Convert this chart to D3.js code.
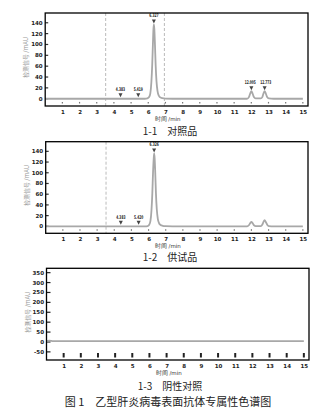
<!DOCTYPE html>
<html><head><meta charset="utf-8">
<script src="https://cdn.jsdelivr.net/npm/d3@7"></script>
<style>body{margin:0;background:#fff}svg{display:block}</style>
</head><body>
<svg id="c" width="333" height="411"></svg>
<script>
// ---- data ----
const xTicks = [1,2,3,4,5,6,7,8,9,10,11,12,13,14,15];
const yTicks12 = [0,20,40,60,80,100,120,140];
const yTicks3 = [-50,0,50,100,150,200,250,300,350];

const times1 = [0,3.5,5.8,5.95,6.05,6.12,6.18,6.23,6.27,6.30,6.327,6.355,6.39,6.43,6.48,6.54,6.61,6.70,6.82,7.0,7.4,11.75,11.86,11.94,12.005,12.07,12.15,12.25,12.55,12.64,12.71,12.773,12.84,12.92,13.02,13.3,15];
const signal1 = [0,0,0,0.6,3,10,30,62,100,127,137,128,100,62,32,14,6,2.5,1,0.3,0,0,3,10,14,10,3,0.5,0.5,3,10,14,10,3,0.5,0,0];
const peakT1 = [4.383,5.419,6.327,12.005,12.773];
const peakV1 = [1,1,137,14,14];
const peakL1 = ["4.383","5.419","6.327","12.005","12.773"];
const dashT1 = [3.52,6.94];

const times2 = [0,3.5,5.8,5.95,6.04,6.11,6.17,6.22,6.26,6.30,6.326,6.355,6.39,6.43,6.48,6.54,6.61,6.70,6.82,7.0,7.4,11.75,11.85,11.93,12.0,12.07,12.15,12.25,12.55,12.63,12.70,12.77,12.84,12.92,13.02,13.3,15];
const signal2 = [0,0,0,0.6,3,10,30,62,100,126,136,127,100,62,32,14,6,2.5,1,0.3,0,0,2,6,8.5,6,2,0.5,0.5,3,8,11.5,8,3,0.5,0,0];
const peakT2 = [4.383,5.420,6.326];
const peakV2 = [1,1,136];
const peakL2 = ["4.383","5.420","6.326"];
const dashT2 = [3.52];

const times3 = [0,0.15,0.4,15];
const signal3 = [4,7,4,4];

const captions = ["1-1\u3000对照品","1-2\u3000供试品","1-3\u3000阴性对照"];
const figTitle = "图 1\u3000乙型肝炎病毒表面抗体专属性色谱图";
const yTitle = "检测信号 /mAU";
const xTitle = "时间 /min";

// ---- drawing ----
const svg = d3.select("#c");
const panels = [
  {l:45.2,r:308,t:13,b:106,yd:[-13.4,158],yt:yTicks12,times:times1,sig:signal1,pt:peakT1,pv:peakV1,pl:peakL1,dash:dashT1,cap:captions[0],capY:135,tickCol:"#777",tickW:1.2,tickLen:1.6,yTickCol:"#333",yTickLen:3},
  {l:45.7,r:308,t:141.7,b:233.3,yd:[-13,158],yt:yTicks12,times:times2,sig:signal2,pt:peakT2,pv:peakV2,pl:peakL2,dash:dashT2,cap:captions[1],capY:261,tickCol:"#777",tickW:1.2,tickLen:1.6,yTickCol:"#333",yTickLen:3},
  {l:46.5,r:309,t:268.3,b:360,yd:[-91,372],yt:yTicks3,times:times3,sig:signal3,pt:[],pv:[],pl:[],dash:[],cap:captions[2],capY:390,tickCol:"#222",tickW:2,tickLen:4.5,yTickCol:"#222",yTickLen:4}
];

panels.forEach(p=>{
  const x = d3.scaleLinear().domain([0,15.3]).range([p.l,p.r]);
  const y = d3.scaleLinear().domain(p.yd).range([p.b,p.t]);
  const g = svg.append("g");

  // dashed lines
  g.selectAll(".dash").data(p.dash).join("line")
    .attr("x1",d=>x(d)).attr("x2",d=>x(d)).attr("y1",p.t).attr("y2",p.b)
    .attr("stroke","#aaa").attr("stroke-width",0.8).attr("stroke-dasharray","3,2");

  // x ticks (inward)
  g.selectAll(".xt").data(xTicks).join("line")
    .attr("x1",d=>x(d)).attr("x2",d=>x(d)).attr("y1",p.b-2.5).attr("y2",p.b-2.5-p.tickLen)
    .attr("stroke",p.tickCol).attr("stroke-width",p.tickW);
  g.selectAll(".xl").data(xTicks).join("text")
    .attr("x",d=>x(d)+0.5).attr("y",p.b+7.5).attr("text-anchor","middle")
    .attr("font-size",5.5).attr("font-family","DejaVu Sans").attr("font-weight","bold").attr("fill","#222")
    .text(d=>d);
  g.append("text").attr("x",(p.l+p.r)/2 - 9).attr("y",p.b+15).attr("text-anchor","middle")
    .attr("font-size",5.5).attr("font-family","DejaVu Sans").attr("fill","#333").text(xTitle);

  // y ticks
  g.selectAll(".yt").data(p.yt).join("line")
    .attr("x1",p.l).attr("x2",p.l+p.yTickLen).attr("y1",d=>y(d)).attr("y2",d=>y(d))
    .attr("stroke",p.yTickCol).attr("stroke-width",1.2);
  g.selectAll(".yl").data(p.yt).join("text")
    .attr("x",p.l-2.5).attr("y",d=>y(d)+2).attr("text-anchor","end")
    .attr("font-size",5.5).attr("font-family","DejaVu Sans").attr("font-weight","bold").attr("fill","#222")
    .text(d=>d);
  const yMid = (y(p.yd[0])+y(p.yd[1]))/2 - 2;
  g.append("text").attr("transform",`translate(${p.l-17},${yMid}) rotate(-90)`)
    .attr("text-anchor","middle").attr("font-size",6).attr("font-family","Noto Sans CJK SC")
    .attr("fill","#999").text(yTitle);

  // signal line
  const pts = p.times.map((t,i)=>[t,p.sig[i]]);
  g.append("path").datum(pts)
    .attr("d",d3.line().x(d=>x(d[0])).y(d=>y(d[1])).curve(d3.curveMonotoneX))
    .attr("fill","none").attr("stroke","#a8a8a8").attr("stroke-width",1.8);

  // peak markers + labels
  const pk = p.pt.map((t,i)=>({t,v:p.pv[i],l:p.pl[i],
    shift:(i+1<p.pt.length && p.pt[i+1]-t<0.9 ? -1.2 : 0) + (i>0 && t-p.pt[i-1]<0.9 ? 1.2 : 0)}));
  g.selectAll(".mk").data(pk).join("path")
    .attr("d",d=>{const cx=x(d.t), cy=y(d.v)-1; return `M${cx-2},${cy-4}L${cx+2},${cy-4}L${cx},${cy}Z`;})
    .attr("fill","#444");
  g.selectAll(".pl").data(pk).join("text")
    .attr("x",d=>x(d.t)+d.shift).attr("y",d=>y(d.v)-7).attr("text-anchor","middle")
    .attr("font-size",5).attr("font-family","DejaVu Sans").attr("font-weight","bold").attr("fill","#222")
    .attr("textLength",d=>d.l.length*1.85).attr("lengthAdjust","spacingAndGlyphs")
    .text(d=>d.l);

  // frame
  g.append("rect").attr("x",p.l).attr("y",p.t).attr("width",p.r-p.l).attr("height",p.b-p.t)
    .attr("fill","none").attr("stroke","#000").attr("stroke-width",1.3);

  // caption
  svg.append("text").attr("x",170).attr("y",p.capY).attr("text-anchor","middle")
    .attr("font-size",10).attr("font-family","Noto Sans CJK SC").attr("fill","#222").text(p.cap);
});

svg.append("text").attr("x",168).attr("y",406).attr("text-anchor","middle")
  .attr("font-size",11).attr("font-family","Noto Sans CJK SC").attr("fill","#222").text(figTitle);
</script>
</body></html>
